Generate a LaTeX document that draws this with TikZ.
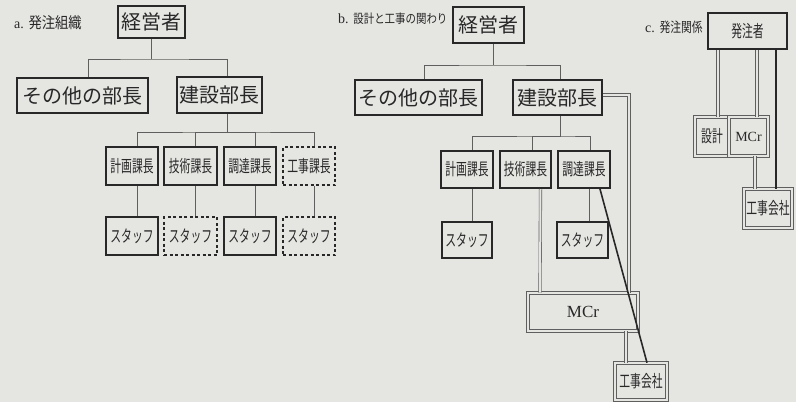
\documentclass[tikz,border=0pt]{standalone}
\usepackage{fontspec}
\usepackage{graphicx}
\setmainfont{Liberation Serif}
\newfontfamily\jp{Noto Sans CJK JP}
\usetikzlibrary{calc}
\definecolor{bg}{RGB}{229,229,226}
\definecolor{ink}{RGB}{40,40,40}
\definecolor{lnc}{RGB}{95,95,95}
\newcommand{\narrowtxt}[1]{\scalebox{0.9}[1.4]{#1}}
\begin{document}
\begin{tikzpicture}[x=1pt,y=-1pt,
  box/.style={draw=ink, line width=2pt, inner sep=0pt, text=ink},
  dbox/.style={box, dash pattern=on 3pt off 2.5pt},
  wbox/.style={draw=lnc, line width=0.6pt, double=bg, double distance=2pt, inner sep=0pt, text=ink},
  big/.style={font=\jp\fontsize{20}{22}\selectfont},
  small/.style={font=\jp\fontsize{12}{14}\selectfont},
  lbl/.style={text=ink, inner sep=0pt, font=\fontsize{14}{16}\selectfont},
  conn/.style={draw=lnc, line width=0.8pt},
  dconn/.style={draw=lnc, line width=0.6pt, double=bg, double distance=2pt},
  tconn/.style={draw=ink, line width=1.6pt}]
\fill[bg] (0,0) rectangle (796,402);
\useasboundingbox (0,0) rectangle (796,402);

% ---------------- panel a
\node[lbl, anchor=west] (la) at (14,23) {a. {\jp\fontsize{14}{16}\selectfont\scalebox{0.95}[1.1]{発注組織}}};
\node[box, big, minimum width=67pt, minimum height=32pt] (a0) at (151.5,22) {経営者};
\node[box, big, minimum width=131pt, minimum height=35pt] (a1) at (82.5,95.5) {その他の部長};
\node[box, big, minimum width=85pt, minimum height=36pt] (a2) at (219.5,95) {建設部長};
\draw[conn] (a0.south) -- ++(0,20) coordinate (ab);
\draw[conn] ([xshift=5.5pt]a1.north) |- (ab) -| ([xshift=7.5pt]a2.north);

\node[box, small, minimum width=52pt, minimum height=38pt] (s1) at (132,166) {\narrowtxt{計画課長}};
\node[box, small, minimum width=53pt, minimum height=38pt] (s2) at (190.5,166) {\narrowtxt{技術課長}};
\node[box, small, minimum width=52pt, minimum height=38pt] (s3) at (250,166) {\narrowtxt{調達課長}};
\node[dbox, small, minimum width=52pt, minimum height=38pt] (s4) at (309,166) {\narrowtxt{工事課長}};
\draw[conn] ([xshift=7.5pt]a2.south) -- ++(0,18) coordinate (ab2);
\draw[conn] ([xshift=5pt]s1.north) |- (ab2) -| ([xshift=5pt]s4.north);
\draw[conn] ([xshift=5pt]s2.north) |- (ab2);
\draw[conn] ([xshift=5pt]s3.north) |- (ab2);

\node[box, small, minimum width=52pt, minimum height=38pt] (t1) at (132,236) {\narrowtxt{スタッフ}};
\node[dbox, small, minimum width=53pt, minimum height=38pt] (t2) at (190.5,236) {\narrowtxt{スタッフ}};
\node[box, small, minimum width=52pt, minimum height=38pt] (t3) at (250,236) {\narrowtxt{スタッフ}};
\node[dbox, small, minimum width=52pt, minimum height=38pt] (t4) at (309,236) {\narrowtxt{スタッフ}};
\draw[conn] ([xshift=5pt]s1.south) -- ([xshift=5pt]t1.north);
\draw[conn] ([xshift=5pt]s2.south) -- ([xshift=5pt]t2.north);
\draw[conn] ([xshift=5pt]s3.south) -- ([xshift=5pt]t3.north);
\draw[conn] ([xshift=5pt]s4.south) -- ([xshift=5pt]t4.north);

% ---------------- panel b
\node[lbl, anchor=west] (lb) at (338,19) {b. {\jp\fontsize{11}{13}\selectfont\scalebox{0.95}[1.15]{設計と工事の関わり}}};
\node[box, big, minimum width=71pt, minimum height=36pt] (b0) at (488.5,25) {経営者};
\node[box, big, minimum width=127pt, minimum height=35pt] (b1) at (418.5,97.5) {その他の部長};
\node[box, big, minimum width=89pt, minimum height=35pt] (b2) at (557.5,97.5) {建設部長};
\draw[conn] ([xshift=4.5pt]b0.south) -- ++(0,21) coordinate (bb);
\draw[conn] ([xshift=5.5pt]b1.north) |- (bb) -| ([xshift=2.5pt]b2.north);

\node[box, small, minimum width=52pt, minimum height=37pt] (c1) at (467,169.5) {\narrowtxt{計画課長}};
\node[box, small, minimum width=51pt, minimum height=37pt] (c2) at (525.5,169.5) {\narrowtxt{技術課長}};
\node[box, small, minimum width=52pt, minimum height=37pt] (c3) at (584,169.5) {\narrowtxt{調達課長}};
\draw[conn] ([xshift=3pt]b2.south) -- ++(0,20) coordinate (bb2);
\draw[conn] ([xshift=5pt]c1.north) |- (bb2) -| ([xshift=6pt]c3.north);
\draw[conn] ([xshift=6.5pt]c2.north) |- (bb2);

\node[box, small, minimum width=50pt, minimum height=36pt] (u1) at (467,240) {\narrowtxt{スタッフ}};
\node[box, small, minimum width=51pt, minimum height=36pt] (u3) at (582.5,240) {\narrowtxt{スタッフ}};
\draw[conn] ([xshift=5pt]c1.south) -- ([xshift=5pt]u1.north);
\draw[conn] ([xshift=5pt]c3.south) -- ([xshift=6.5pt]u3.north);

\node[wbox, font=\fontsize{17}{19}\selectfont, minimum width=110pt, minimum height=38pt] (m) at (583,312) {MCr};
\node[wbox, small, minimum width=52pt, minimum height=37pt] (k) at (641,381.5) {\narrowtxt{工事会社}};
\draw[dconn] ([yshift=2.5pt]b2.east) -| ([xshift=46pt]m.north);
\draw[dconn] ([xshift=15pt]c2.south) -- ([xshift=-43pt]m.north);
\draw[dconn] ([xshift=43pt]m.south) -- ([xshift=-15pt]k.north);
\draw[tconn] ([xshift=16pt]c3.south) -- ([xshift=6pt]k.north);

% ---------------- panel c
\node[lbl, anchor=west] (lc) at (645,27) {c. {\jp\fontsize{12}{14}\selectfont\scalebox{0.9}[1.15]{発注関係}}};
\node[box, small, line width=1.5pt, minimum width=79pt, minimum height=36pt] (d0) at (747.5,31) {\narrowtxt{発注者}};
\node[wbox, small, minimum width=34pt, minimum height=39pt] (e1) at (712,136.5) {\narrowtxt{設計}};
\node[wbox, font=\fontsize{14}{16}\selectfont, minimum width=39pt, minimum height=39pt] (e2) at (748.5,136.5) {MCr};
\node[wbox, small, minimum width=48pt, minimum height=39pt] (e3) at (768,208.5) {\narrowtxt{工事会社}};
\draw[dconn] ([xshift=6pt]e1.north) -- ([xshift=6pt]e1.north |- d0.south);
\draw[dconn] ([xshift=8.5pt]e2.north) -- ([xshift=8.5pt]e2.north |- d0.south);
\draw[tconn] ([xshift=28.5pt]d0.south) -- ([xshift=8pt]e3.north);
\draw[dconn] ([xshift=6.5pt]e2.south) -- ([xshift=-13pt]e3.north);
\end{tikzpicture}
\end{document}
